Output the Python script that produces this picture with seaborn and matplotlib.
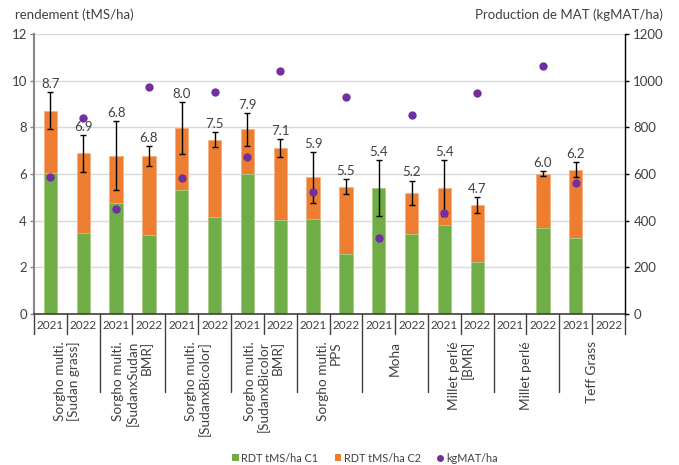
import matplotlib
matplotlib.use('Agg')
import matplotlib.pyplot as plt
import seaborn as sns
import pandas as pd
import numpy as np
from matplotlib.patches import Patch
from matplotlib.lines import Line2D

# Data
groups = ['Sorgho multi.\n[Sudan grass]',
          'Sorgho multi.\n[SudanxSudan\nBMR]',
          'Sorgho multi.\n[SudanxBicolor]',
          'Sorgho multi.\n[SudanxBicolor\nBMR]',
          'Sorgho multi.\nPPS',
          'Moha',
          'Millet perlé\n[BMR]',
          'Millet perlé',
          'Teff Grass']
years = ['2021', '2022']

rdt_c1 = [6.04, 3.47, 4.74, 3.40, 5.30, 4.14, 6.01, 4.02, 4.07,
          2.57, 5.41, 3.44, 3.80, 2.21, np.nan, 3.67, 3.25, np.nan]
rdt_c2 = [2.68, 3.41, 2.05, 3.36, 2.67, 3.33, 1.90, 3.09, 1.79,
          2.89, 0.00, 1.75, 1.59, 2.45, np.nan, 2.34, 2.94, np.nan]
rdt_sd = [0.80, 0.78, 1.47, 0.43, 1.11, 0.31, 0.69, 0.40, 1.10,
          0.32, 1.20, 0.53, 1.21, 0.34, np.nan, 0.11, 0.33, np.nan]
kg_mat = [589, 838, 448, 975, 585, 952, 674, 1042, 522,
          928, 327, 852, 432, 949, np.nan, 1064, 562, np.nan]

green = '#70AD47'
orange = '#ED7D31'
purple = '#7030A0'
txt = '#404040'

df = pd.DataFrame({
    'group': np.repeat(range(len(groups)), len(years)),
    'year': years * len(groups),
    'c1': rdt_c1, 'c2': rdt_c2, 'sd': rdt_sd, 'mat': kg_mat,
})
df['total'] = df['c1'] + df['c2']
df['slot'] = df['group'].astype(str) + '-' + df['year']
df['pos'] = np.arange(len(df))
slots = list(df['slot'])

sns.set_style('white')
plt.rcParams['font.family'] = ['Lato', 'DejaVu Sans']
plt.rcParams['text.color'] = txt

fig = plt.figure(figsize=(6.79, 4.65), dpi=100)
ax = fig.add_axes([34 / 679, 1 - 314 / 465, 591 / 679, 280 / 465])

# stacked bars: total (orange) then C1 (green) on top
sns.barplot(data=df, x='slot', y='total', order=slots, color=orange,
            saturation=1, width=0.41, errorbar=None, ax=ax,
            edgecolor='#F4B183', linewidth=0.6)
sns.barplot(data=df, x='slot', y='c1', order=slots, color=green,
            saturation=1, width=0.41, errorbar=None, ax=ax,
            edgecolor='#A9D18E', linewidth=0.6)

ok = df['total'].notna()
ax.errorbar(df.loc[ok, 'pos'], df.loc[ok, 'total'], yerr=df.loc[ok, 'sd'],
            fmt='none', ecolor='black', elinewidth=1, capsize=2.5, capthick=1, zorder=4)
for _, r in df[ok].iterrows():
    ax.annotate(f"{r['total']:.1f}", (r['pos'], r['total'] + r['sd']),
                xytext=(0, 1.5), textcoords='offset points',
                ha='center', va='bottom', fontsize=9.5, color=txt)

ax.set_xlim(-0.5, len(df) - 0.5)
ax.set_ylim(0, 12)
ax.set_yticks(range(0, 13, 2))
ax.grid(axis='y', color='#D9D9D9', linewidth=1)
ax.set_axisbelow(True)
ax.set_xlabel('')
ax.set_ylabel('')
ax.set_xticks(df['pos'])
ax.set_xticklabels(df['year'], fontsize=8.5, color=txt)
ax.tick_params(axis='x', length=0, pad=4)
ax.tick_params(axis='y', length=3, width=1, color='#868686', labelsize=9.5,
               labelcolor=txt, direction='out', pad=2, left=True)
for s in ['top', 'right']:
    ax.spines[s].set_visible(False)
ax.spines['left'].set_color('#868686')
ax.spines['left'].set_linewidth(1.5)
ax.spines['bottom'].set_color('#404040')
ax.spines['bottom'].set_linewidth(1.2)

# separators under the axis
trans = ax.get_xaxis_transform()
for b in range(len(df) + 1):
    x = b - 0.5
    inner_group = (b % 2 == 0) and 0 < b < len(df)
    y_end = -78 / 280 if inner_group else -20 / 280
    ax.plot([x, x], [0, y_end], transform=trans, color='#404040', lw=1, clip_on=False)

for g, name in enumerate(groups):
    ax.text(2 * g + 0.5, -27 / 280, name, transform=trans, rotation=90,
            ha='center', va='top', multialignment='right', fontsize=9.8,
            color=txt, linespacing=1.1)

# secondary axis: kgMAT/ha
ax2 = ax.twinx()
sns.scatterplot(data=df, x='pos', y='mat', color=purple, s=36, linewidth=0, ax=ax2, zorder=5)
ax2.set_ylim(0, 1200)
ax2.set_yticks(range(0, 1201, 200))
ax2.set_xlim(-0.5, len(df) - 0.5)
ax2.set_ylabel('')
ax2.set_xlabel('')
for s in ['top', 'left', 'bottom']:
    ax2.spines[s].set_visible(False)
ax2.spines['right'].set_color('black')
ax2.spines['right'].set_linewidth(1)
ax2.tick_params(axis='y', length=3, width=1, color='black', labelsize=9.5,
                labelcolor=txt, direction='out', pad=3, right=True)

fig.text(15 / 679, 1 - 15 / 465, 'rendement (tMS/ha)', ha='left', va='center',
         fontsize=9.5, color=txt)
fig.text(663 / 679, 1 - 15 / 465, 'Production de MAT (kgMAT/ha)', ha='right',
         va='center', fontsize=9.5, color=txt)

handles = [Patch(facecolor=green, edgecolor='none', label='RDT tMS/ha C1'),
           Patch(facecolor=orange, edgecolor='none', label='RDT tMS/ha C2'),
           Line2D([], [], marker='o', color='none', markerfacecolor=purple,
                  markeredgecolor='none', markersize=5, label='kgMAT/ha')]
fig.legend(handles=handles, loc='center', bbox_to_anchor=(365 / 679, 1 - 458 / 465),
           ncol=3, frameon=False, fontsize=7.8, handlelength=0.6, handleheight=0.6,
           handletextpad=0.25, columnspacing=1.5)

fig.savefig('out.png', dpi=100)
